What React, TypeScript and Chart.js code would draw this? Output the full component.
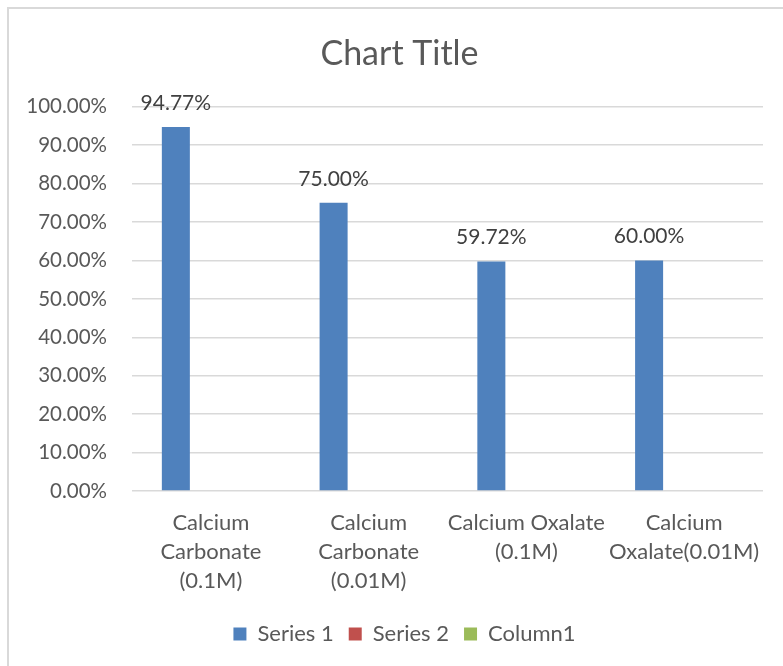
import React, { useEffect, useRef } from "react";
import { Chart, registerables } from "chart.js";

Chart.register(...registerables);

const categories: (string | string[])[] = [
  ["Calcium", "Carbonate", "(0.1M)"],
  ["Calcium", "Carbonate", "(0.01M)"],
  ["Calcium Oxalate", "(0.1M)"],
  ["Calcium", "Oxalate(0.01M)"],
];
const series1 = [0.9477, 0.75, 0.5972, 0.6];
const series2: (number | null)[] = [null, null, null, null];
const column1: (number | null)[] = [null, null, null, null];
const seriesNames = ["Series 1", "Series 2", "Column1"];
const seriesColors = ["#4F81BD", "#C0504D", "#9BBB59"];

const FONT = "Lato, 'Open Sans', sans-serif";
const TEXT = "#595959";
const W = 783;
const H = 666;

const pct = (v: number) => (v * 100).toFixed(2) + "%";

// Value labels above the bars of the first series
const barValueLabels = {
  id: "barValueLabels",
  afterDatasetsDraw(chart: any) {
    const ctx = chart.ctx;
    const meta = chart.getDatasetMeta(0);
    const data = chart.data.datasets[0].data as number[];
    ctx.save();
    ctx.font = `21px ${FONT}`;
    ctx.fillStyle = "#404040";
    ctx.textAlign = "center";
    ctx.textBaseline = "middle";
    meta.data.forEach((bar: any, i: number) => {
      if (data[i] == null) return;
      ctx.fillText(pct(data[i]), bar.x, bar.y - 24);
    });
    ctx.restore();
  },
};

// Centre the title and legend on the whole frame rather than the plot column
const centreBlocks = {
  id: "centreBlocks",
  afterLayout(chart: any) {
    const shift = (box: any, dx: number) => {
      if (!box) return;
      box.left += dx;
      box.right += dx;
    };
    shift(chart.titleBlock, 18);
    shift(chart.legend, 23);
  },
};

export default function App() {
  const ref = useRef<HTMLCanvasElement | null>(null);

  useEffect(() => {
    if (!ref.current) return;
    const chart = new Chart(ref.current, {
      type: "bar",
      data: {
        labels: categories,
        datasets: [series1, series2, column1].map((d, i) => ({
          label: seriesNames[i],
          data: d,
          backgroundColor: seriesColors[i],
          borderWidth: 0,
          categoryPercentage: 0.666,
          barPercentage: 0.8,
        })),
      },
      options: {
        responsive: false,
        animation: false,
        layout: { padding: { left: 0, right: 20, top: 0, bottom: 11 } },
        plugins: {
          title: {
            display: true,
            text: "Chart Title",
            color: TEXT,
            font: { family: FONT, size: 34, weight: "normal" },
            padding: { top: 34, bottom: 32 },
          },
          legend: {
            position: "bottom",
            labels: {
              color: TEXT,
              font: { family: FONT, size: 22 },
              boxWidth: 13,
              boxHeight: 13,
              padding: 15,
            },
          },
          tooltip: { enabled: false },
        },
        scales: {
          x: {
            grid: { display: false, drawTicks: false },
            border: { display: false },
            ticks: {
              color: TEXT,
              font: { family: FONT, size: 22, lineHeight: 1.32 },
              padding: 17,
              maxRotation: 0,
              autoSkip: false,
            },
            afterFit: (scale: any) => {
              scale.height = 117;
            },
          },
          y: {
            min: 0,
            max: 1,
            grid: { color: "#d9d9d9", lineWidth: 1.5, drawTicks: false },
            border: { display: false },
            ticks: {
              stepSize: 0.1,
              color: TEXT,
              font: { family: FONT, size: 20.5 },
              padding: 25,
              callback: (v: any) => pct(Number(v)),
            },
            afterFit: (scale: any) => {
              scale.width = 132;
            },
          },
        },
      },
      plugins: [barValueLabels, centreBlocks],
    });
    return () => chart.destroy();
  }, []);

  return (
    <div
      style={{
        position: "fixed",
        left: 0,
        top: 0,
        width: W,
        height: H,
        overflow: "hidden",
        background: "#ffffff",
      }}
    >
      <div
        style={{
          position: "absolute",
          left: 7,
          top: 7,
          width: W + 20,
          height: H + 20,
          border: "2px solid #d9d9d9",
          boxSizing: "border-box",
        }}
      />
      <canvas
        ref={ref}
        width={W}
        height={H}
        style={{ position: "absolute", left: 0, top: 0, width: W, height: H }}
      />
    </div>
  );
}
